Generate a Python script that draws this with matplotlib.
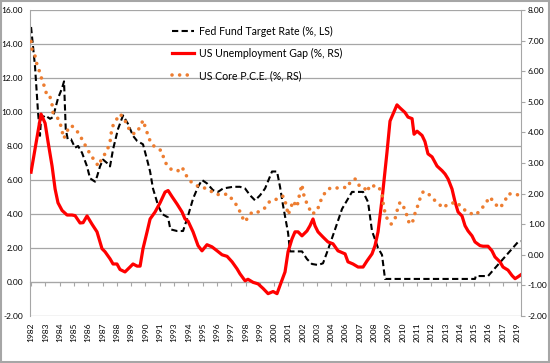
import numpy as np
import matplotlib
matplotlib.use('Agg')
import matplotlib.pyplot as plt
from matplotlib.patches import Rectangle
from matplotlib.ticker import FormatStrFormatter

plt.rcParams['font.family'] = ['Lato', 'DejaVu Sans']

# Fed funds target rate (%, left scale)
fed_year = [1982.0, 1982.3, 1982.53, 1982.68, 1982.76, 1983.07, 1983.45, 1983.67, 1984.05, 1984.36,
            1984.51, 1984.64, 1984.79, 1985.04, 1985.35, 1985.58, 1985.88, 1986.26, 1986.49, 1986.87,
            1987.02, 1987.25, 1987.48, 1987.78, 1988.01, 1988.24, 1988.62, 1989.0, 1989.38, 1989.76,
            1990.07, 1990.52, 1990.83, 1991.06, 1991.28, 1991.67, 1991.97, 1992.43, 1992.6, 1993.11,
            1993.57, 1993.95, 1994.33, 1994.71, 1995.01, 1995.39, 1995.85, 1996.23, 1996.61, 1997.37,
            1997.9, 1998.29, 1998.67, 1999.05, 1999.43, 1999.81, 2000.34, 2000.72, 2000.95, 2001.18,
            2001.56, 2001.71, 2002.09, 2002.62, 2003.0, 2003.38, 2003.84, 2004.22, 2004.6, 2005.14,
            2005.67, 2006.05, 2006.43, 2007.27, 2007.65, 2007.95, 2008.41, 2008.71, 2008.94, 2015.79,
            2015.85, 2016.78, 2019.06, 2019.29]
fed_rate = [15.0, 12.7, 10.0, 8.6, 9.6, 9.8, 9.6, 9.7, 10.8, 11.4,
            11.8, 9.0, 8.4, 8.4, 7.9, 8.0, 7.6, 6.8, 6.1, 5.9,
            6.2, 6.8, 7.2, 7.0, 6.8, 7.8, 9.0, 9.8, 9.3, 8.6,
            8.3, 8.1, 7.2, 6.5, 5.5, 4.5, 4.0, 3.8, 3.1, 3.0,
            3.0, 3.9, 4.9, 5.6, 6.0, 5.8, 5.4, 5.3, 5.5, 5.6,
            5.6, 5.5, 5.1, 4.8, 5.1, 5.5, 6.5, 6.5, 5.6, 4.5,
            2.9, 1.8, 1.8, 1.8, 1.35, 1.06, 1.0, 1.1, 1.9, 3.1,
            4.3, 4.8, 5.3, 5.3, 4.7, 3.0, 2.0, 1.6, 0.18, 0.18,
            0.35, 0.35, 2.35, 2.4]

# US unemployment gap (%, right scale)
gap_year = [1982.0, 1982.76, 1983.07, 1983.29, 1983.6, 1983.83, 1984.05, 1984.36, 1984.74, 1985.12,
            1985.35, 1985.73, 1985.96, 1986.26, 1986.64, 1987.02, 1987.4, 1987.63, 1988.01, 1988.24,
            1988.54, 1988.77, 1989.15, 1989.53, 1989.76, 1990.07, 1990.3, 1990.52, 1990.83, 1991.06,
            1991.44, 1991.82, 1992.2, 1992.43, 1992.73, 1993.11, 1993.49, 1993.72, 1993.95, 1994.33,
            1994.71, 1995.01, 1995.39, 1995.77, 1996.16, 1996.54, 1996.92, 1997.3, 1997.68, 1997.9,
            1998.29, 1998.51, 1998.9, 1999.28, 1999.66, 2000.04, 2000.42, 2000.72, 2000.95, 2001.33,
            2001.56, 2001.86, 2002.09, 2002.32, 2002.62, 2003.0, 2003.23, 2003.46, 2003.61, 2003.84,
            2004.22, 2004.6, 2004.98, 2005.36, 2005.9, 2006.12, 2006.5, 2006.89, 2007.27, 2007.57,
            2007.95, 2008.18, 2008.41, 2008.71, 2009.09, 2009.32, 2009.55, 2009.85, 2010.08, 2010.46,
            2010.69, 2011.0, 2011.15, 2011.38, 2011.76, 2011.98, 2012.21, 2012.52, 2012.9, 2013.28,
            2013.51, 2013.74, 2014.04, 2014.27, 2014.5, 2014.8, 2015.03, 2015.26, 2015.56, 2015.79,
            2016.17, 2016.4, 2016.78, 2017.08, 2017.31, 2017.69, 2017.92, 2018.3, 2018.61, 2018.84,
            2019.06, 2019.29]
gap_val = [2.7, 4.6, 4.3, 3.7, 2.9, 2.15, 1.7, 1.45, 1.3, 1.3,
           1.28, 1.04, 1.05, 1.27, 1.0, 0.75, 0.2, 0.1, -0.13, -0.3,
           -0.3, -0.48, -0.56, -0.4, -0.3, -0.37, -0.37, 0.2, 0.75, 1.17,
           1.4, 1.7, 2.05, 2.1, 1.9, 1.66, 1.4, 1.17, 1.1, 0.75,
           0.3, 0.13, 0.33, 0.26, 0.13, 0.0, -0.05, -0.23, -0.46, -0.62,
           -0.85, -0.8, -0.9, -0.95, -1.1, -1.27, -1.2, -1.27, -1.0, -0.56,
           0.1, 0.52, 0.75, 0.75, 0.62, 0.78, 0.95, 1.17, 0.95, 0.75,
           0.58, 0.42, 0.36, 0.13, 0.03, -0.23, -0.3, -0.4, -0.4, -0.2,
           0.03, 0.3, 0.75, 1.8, 3.35, 4.37, 4.6, 4.9, 4.8, 4.65,
           4.5, 4.45, 3.94, 4.04, 3.9, 3.7, 3.3, 3.2, 2.9, 2.75,
           2.64, 2.48, 2.15, 1.73, 1.4, 1.27, 0.95, 0.78, 0.62, 0.42,
           0.3, 0.28, 0.28, 0.13, -0.07, -0.23, -0.4, -0.5, -0.68, -0.78,
           -0.72, -0.65]

# US core PCE inflation (%, right scale)
pce_year = [1982.0, 1982.08, 1982.3, 1982.46, 1982.68, 1982.84, 1983.07, 1983.22, 1983.45, 1983.6,
            1983.67, 1983.98, 1984.2, 1984.36, 1984.51, 1984.66, 1985.04, 1985.35, 1985.73, 1985.96,
            1986.26, 1986.57, 1986.95, 1987.1, 1987.4, 1987.78, 1988.01, 1988.16, 1988.47, 1988.77,
            1989.08, 1989.31, 1989.61, 1989.91, 1990.3, 1990.52, 1990.75, 1990.98, 1991.21, 1991.59,
            1991.97, 1992.12, 1992.43, 1992.81, 1993.19, 1993.49, 1993.8, 1994.1, 1994.48, 1994.86,
            1995.24, 1995.62, 1996.0, 1996.54, 1996.92, 1997.3, 1997.68, 1998.06, 1998.21, 1998.51,
            1998.82, 1999.28, 1999.73, 2000.19, 2000.72, 2001.1, 2001.25, 2001.48, 2001.56, 2001.79,
            2001.94, 2002.24, 2002.47, 2002.62, 2002.7, 2002.85, 2003.08, 2003.38, 2003.77, 2003.99,
            2004.3, 2004.6, 2004.98, 2005.36, 2005.74, 2006.12, 2006.28, 2006.66, 2006.89, 2007.27,
            2007.57, 2007.8, 2008.03, 2008.41, 2008.71, 2008.79, 2008.86, 2009.09, 2009.4, 2009.7,
            2009.85, 2010.08, 2010.31, 2010.54, 2010.69, 2011.0, 2011.15, 2011.38, 2011.53, 2011.83,
            2012.14, 2012.52, 2012.9, 2013.35, 2013.74, 2014.42, 2014.65, 2015.18, 2015.79, 2016.17,
            2016.55, 2016.93, 2017.31, 2017.69, 2018.07, 2018.3, 2018.84, 2019.1]
pce_val = [6.97, 6.7, 6.5, 6.2, 5.95, 5.7, 5.44, 5.17, 5.15, 4.9,
           4.65, 4.5, 4.33, 4.04, 3.8, 4.0, 4.23, 4.13, 3.9, 3.7,
           3.48, 3.23, 3.03, 2.9, 3.15, 3.4, 3.68, 4.16, 4.4, 4.6,
           4.46, 4.23, 4.0, 3.95, 4.17, 4.4, 4.1, 3.8, 3.6, 3.48,
           3.39, 3.1, 2.87, 2.75, 2.75, 2.87, 2.6, 2.41, 2.3, 2.2,
           2.18, 2.1, 1.99, 1.95, 1.99, 1.82, 1.6, 1.27, 1.08, 1.2,
           1.4, 1.4, 1.5, 1.76, 1.82, 1.92, 1.9, 1.5, 1.3, 1.56,
           1.76, 1.56, 2.05, 2.3, 2.05, 1.82, 1.6, 1.33, 1.43, 1.72,
           1.98, 2.15, 2.2, 2.18, 2.2, 2.2, 2.38, 2.48, 2.28, 2.25,
           2.05, 2.28, 2.25, 2.25, 2.02, 1.72, 1.5, 1.2, 1.0, 1.17,
           1.43, 1.72, 1.6, 1.4, 1.1, 1.0, 1.27, 1.53, 1.76, 2.05,
           2.05, 1.85, 1.72, 1.53, 1.66, 1.72, 1.6, 1.4, 1.3, 1.43,
           1.66, 1.89, 1.66, 1.53, 1.76, 1.99, 1.99, 1.95]

year_labels = ['1982', '1983', '1984', '1985', '1986', '1987', '1988', '1989', '1990', '1991',
               '1993', '1994', '1995', '1996', '1997', '1998', '1999', '2000', '2001', '2002',
               '2003', '2004', '2006', '2007', '2008', '2009', '2010', '2011', '2012', '2013',
               '2014', '2015', '2016', '2017', '2019']

GRID = '#a6a6a6'
fig = plt.figure(figsize=(5.5, 3.63), dpi=100)
ax = fig.add_axes([30/550, 47/363, 491/550, 306/363])
ax2 = ax.twinx()

l1, = ax.plot(fed_year, fed_rate, color='black', lw=1.5, ls=(0, (3.0, 1.6)),
              label='Fed Fund Target Rate (%, LS)')
l2, = ax2.plot(gap_year, gap_val, color='#ff0000', lw=2.3, solid_joinstyle='round',
               label='US Unemployment Gap (%, RS)')
l3, = ax2.plot(pce_year, pce_val, color='#ed7d31', lw=2.6, ls=(0, (0.01, 2.1)),
               dash_capstyle='round', label='US Core P.C.E. (%, RS)')

ax.set_xlim(1981.92, 2019.29)
ax.set_ylim(-2, 16)
ax.set_yticks(np.arange(-2, 17, 2))
ax2.set_ylim(-2, 8)
ax2.set_yticks(np.arange(-2, 9, 1))
ax.yaxis.set_major_formatter(FormatStrFormatter('%.2f'))
ax2.yaxis.set_major_formatter(FormatStrFormatter('%.2f'))
ax.grid(axis='y', color=GRID, lw=0.9)
ax.set_axisbelow(True)

ticks = np.linspace(1982, 2019, len(year_labels))
ax.set_xticks(ticks)
ax.tick_params(axis='x', direction='out', length=3, color=GRID, labelbottom=False)
ax.spines['bottom'].set_position(('data', 0))
ax.spines['bottom'].set_color(GRID)
ax.spines['left'].set_color(GRID)
ax.spines['top'].set_visible(False)
ax.spines['right'].set_visible(False)
ax.tick_params(axis='y', length=0, pad=5, labelsize=6)

for s in ['top', 'bottom', 'left']:
    ax2.spines[s].set_visible(False)
ax2.spines['right'].set_color(GRID)
ax2.tick_params(axis='y', direction='out', length=3, color=GRID, pad=2, labelsize=6)

sec = ax.secondary_xaxis('bottom')
sec.set_xticks(ticks, year_labels)
sec.tick_params(axis='x', length=0, pad=5, labelsize=6, labelrotation=90)
sec.spines['bottom'].set_visible(False)

leg = ax.legend(handles=[l1, l2, l3], loc='upper left', bbox_to_anchor=(0.29, 0.948),
                frameon=False, fontsize=7.6, handlelength=2.0, labelspacing=1.05,
                borderpad=0, borderaxespad=0, handletextpad=0.5)

fig.patches.append(Rectangle((0.001, 0.002), 0.997, 0.995, transform=fig.transFigure,
                             fill=False, edgecolor='#a6a6a6', lw=1.5))
fig.savefig('out.png', dpi=100)
